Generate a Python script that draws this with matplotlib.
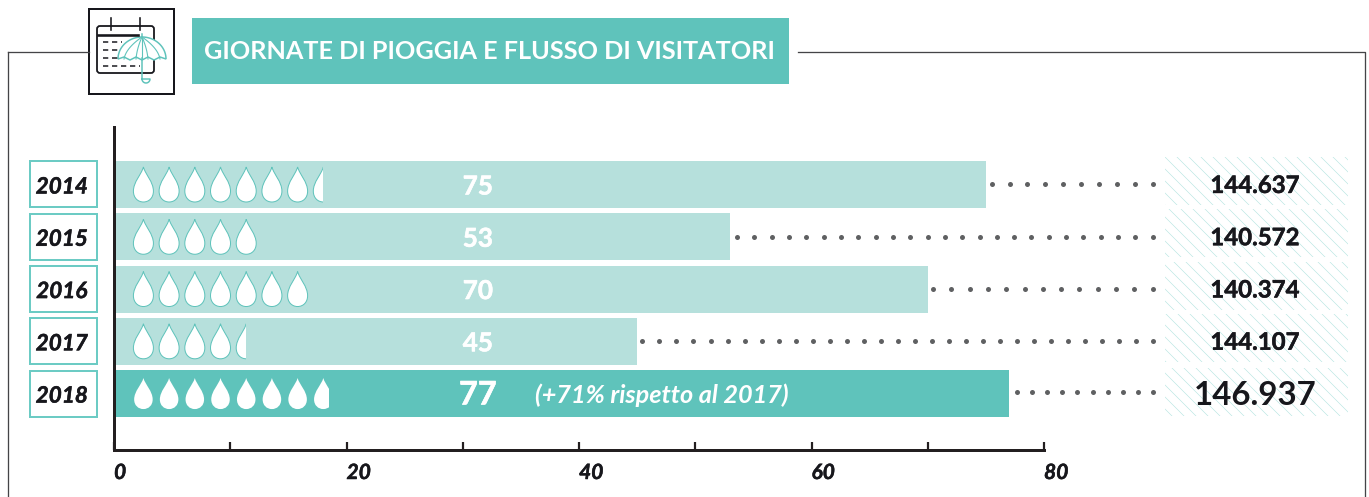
import numpy as np
import matplotlib
matplotlib.use("Agg")
import matplotlib.pyplot as plt
import matplotlib.patheffects as pe
from matplotlib.patches import Rectangle, PathPatch, FancyBboxPatch, Polygon
from matplotlib.path import Path

years = ["2014", "2015", "2016", "2017", "2018"]
rain_days = [75, 53, 70, 45, 77]
drop_counts = [7.5, 5, 7, 4.5, 7.8]
visitors = ["144.637", "140.572", "140.374", "144.107", "146.937"]
x_major = [0, 20, 40, 60, 80]
x_minor = [10, 30, 50, 70]
title = "GIORNATE DI PIOGGIA E FLUSSO DI VISITATORI"
note = "(+71% rispetto al 2017)"

TEAL = "#5fc3bb"
LIGHT = "#b6e0dc"
DARK = "#231f20"
INK = "#17171c"
LINE = "#444447"
FONT = "Lato"
W, H = 1369, 497

plt.rcParams["font.family"] = FONT
plt.rcParams["hatch.linewidth"] = 0.6
fig = plt.figure(figsize=(W / 72, H / 72), dpi=72, facecolor="white")

def heavy(width, color):
    return [pe.withStroke(linewidth=width, foreground=color)]

# pixel overlay for the frame / header decoration
bg = fig.add_axes([0, 0, 1, 1])
bg.set_xlim(0, W); bg.set_ylim(H, 0); bg.axis("off")
bg.plot([8, 89], [52, 52], color=LINE, lw=1.3)
bg.plot([8, 8], [52, H], color=LINE, lw=1.3)
bg.plot([798, 1365, 1365], [52, 52, H], color=LINE, lw=1.3)
bg.add_patch(Rectangle((192, 18), 597, 66, fc=TEAL, ec="none"))
bg.text(204, 51.5, title, color="white", fontsize=25.2, fontweight="bold", va="center", ha="left")

# icon
bg.add_patch(Rectangle((89, 9), 85, 85, fc="white", ec=INK, lw=2))
bg.add_patch(FancyBboxPatch((97, 26), 57, 47, boxstyle="round,pad=0,rounding_size=3", fc="white", ec=INK, lw=1.8))
bg.plot([98, 138], [35, 35], color=INK, lw=2.6)
for xx in (110.5, 140):
    bg.plot([xx, xx], [18, 30], color=INK, lw=1.6)
for yy, x1 in zip((42, 50, 58, 66), (122, 118, 118, 140)):
    bg.plot([103, x1], [yy, yy], color=INK, lw=1.5, dashes=(3.5, 2.5))
th = np.linspace(np.pi, 0, 60)
cx, cy = 142, 59
top_x = cx + 24 * np.cos(th)
top_y = cy - 22 * np.sin(th)
sc = [(118, 59), (124, 57), (130, 60), (136, 57), (142, 60), (148, 57), (154, 60), (160, 57), (166, 59)]
bg.add_patch(Polygon(np.r_[np.c_[top_x, top_y], np.array(sc[::-1])], closed=True, fc="white", ec=TEAL, lw=1.5))
for dx, ctrl in ((-18, -16), (-6, -5), (0, 0), (6, 5), (18, 16)):
    t = np.linspace(0, 1, 20)
    bg.plot(cx + ctrl * 2 * t * (1 - t) + dx * t ** 2, 37 + 22 * t, color=TEAL, lw=1.1)
bg.plot([cx, cx], [34, 37], color=TEAL, lw=1.5)
ang = np.linspace(np.pi, 0, 20)
bg.plot(np.r_[cx, cx, 146 - 4 * np.cos(ang)], np.r_[58, 79, 79 + 4 * np.sin(ang)], color=TEAL, lw=1.5)

# main axes: x px 114..1044 for 0..80
ax = fig.add_axes([114 / W, 1 - 450 / H, 930 / W, (450 - 127) / H])
ax.patch.set_alpha(0)
ax.set_xlim(0, 80)
ax.set_ylim(5.08, -1.10)
ys = np.arange(len(years))
colors = [LIGHT] * 4 + [TEAL]
ax.barh(ys, rain_days, height=47 / 52.25, color=colors, edgecolor="none", zorder=2)

for s in ("top", "right"):
    ax.spines[s].set_visible(False)
for s in ("left", "bottom"):
    ax.spines[s].set_color(DARK)
    ax.spines[s].set_linewidth(3)
ax.set_yticks([])
ax.set_xticks(x_major)
ax.set_xticklabels([str(v) for v in x_major], ha="left", fontsize=21, fontweight="bold",
                   fontstyle="italic", color=INK, path_effects=heavy(0.5, INK))
ax.set_xticks(x_minor, minor=True)
ax.tick_params(axis="x", which="both", direction="in", length=8, width=2.2, color=DARK, pad=13)

# drops: one per ten days, the last one cut at the value
PITCH, FIRST = 25.7 / 11.625, 2.53

def drop(cx, cy, w, h):
    v = [(0, -h / 2),
         (0.1 * w, -0.28 * h), (0.5 * w, -0.08 * h), (0.5 * w, 0.19 * h),
         (0.5 * w, 0.38 * h), (0.28 * w, h / 2), (0, h / 2),
         (-0.28 * w, h / 2), (-0.5 * w, 0.38 * h), (-0.5 * w, 0.19 * h),
         (-0.5 * w, -0.08 * h), (-0.1 * w, -0.28 * h), (0, -h / 2),
         (0, -h / 2)]
    v = [(cx + a, cy + b) for a, b in v]
    c = [Path.MOVETO] + [Path.CURVE4] * 12 + [Path.CLOSEPOLY]
    return Path(v, c)

for i, (val, n) in enumerate(zip(rain_days, drop_counts)):
    last = i == len(years) - 1
    w = (18.5 if last else 20) / 11.625
    h = (31 if last else 35) / 52.25
    for k in range(int(np.ceil(n))):
        c_ = FIRST + k * PITCH
        frac = min(1.0, n - k)
        p = PathPatch(drop(c_, i, w, h), fc="white", ec="none" if last else TEAL, lw=1.0, zorder=3)
        ax.add_patch(p)
        if frac < 1:
            clip = Rectangle((c_ - w, i - 0.5), w / 2 + frac * w, 1, transform=ax.transData)
            p.set_clip_path(clip)
    ax.text(31.3, i - (0.02 if last else 0.0), str(val), color="white", fontsize=32.5 if last else 26,
            fontweight="bold", ha="center", va="center_baseline", zorder=4, path_effects=heavy(0.6, "white"))
ax.text(36.2, 4.0, note, color="white", fontsize=25.3, fontstyle="italic",
        fontweight="bold", ha="left", va="center_baseline", zorder=4)

# dotted leaders
dot_counts = [10, 25, 13, 31, 10]
dot_gaps = [0.5, 0.6, 0.45, 0.46, 0.7]
DOT_END = 89.35
for i, (val, n, g) in enumerate(zip(rain_days, dot_counts, dot_gaps)):
    xs = np.linspace(val + g, DOT_END, n)
    ax.plot(xs, [i - (0.03 if i == 4 else 0)] * n, ls="none", marker="o", ms=5, color="#5f6062", mew=0,
            clip_on=False, zorder=3)

# year boxes and visitor boxes
for i, y in enumerate(years):
    ax.add_patch(Rectangle((-7.25, i - 0.44), 5.75, 0.88, fc="white", ec="#6ccbc4", lw=2, clip_on=False))
    ax.text(-4.5, i + 0.01, y, fontsize=22.5, fontweight="bold", fontstyle="italic", color=INK,
            ha="center", va="center_baseline", clip_on=False, path_effects=heavy(0.5, INK))
    last = i == len(years) - 1
    ax.add_patch(Rectangle((90.4, i - (0.49 if last else 0.525)), 15.75, 0.92, fc="none", ec="#b5e5e0", lw=0,
                           hatch="\\\\", clip_on=False))
    ax.text(98.15, i - 0.02, visitors[i], fontsize=33 if last else 24, fontweight="bold",
            color=INK, ha="center", va="center_baseline", clip_on=False, zorder=5,
            path_effects=None if last else heavy(0.5, INK))

fig.savefig("out.png", dpi=72, facecolor="white")
